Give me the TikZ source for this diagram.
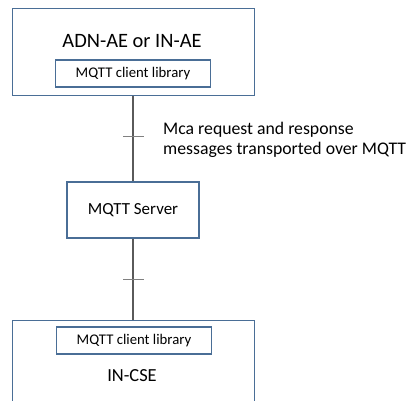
\documentclass[tikz,border=0pt]{standalone}
\usepackage{fontspec}
\setmainfont{Carlito}
\definecolor{boxblue}{HTML}{4A6E96}
\definecolor{linegray}{HTML}{5A5A5A}
\begin{document}
\begin{tikzpicture}[x=1bp,y=-1bp,
  outer/.style={draw=boxblue,line width=1.3bp,fill=white,minimum width=242bp,anchor=north west,inner sep=0},
  lib/.style={draw=boxblue,line width=1.2bp,fill=white,minimum width=155bp,minimum height=27bp,inner sep=0,font=\fontsize{14.8}{16}\selectfont},
  server/.style={draw=boxblue,line width=1.2bp,fill=white,minimum width=132bp,minimum height=56bp,inner sep=0,font=\fontsize{17}{19}\selectfont},
  conn/.style={draw=linegray,line width=1.3bp},
  tick/.style={draw=gray,line width=1bp},
  title/.style={inner sep=0}]
\useasboundingbox (0,0) rectangle (410,401);
\clip (0,0) rectangle (410,401);
% top box
\node[outer,minimum height=87bp] (top) at (12,8) {};
\node[title,font=\fontsize{20.5}{22}\selectfont] (toptitle) at (132,41) {ADN-AE or IN-AE};
\node[lib] (toplib) at (133,73.5) {MQTT client library};
% server
\node[server] (srv) at (133,210) {MQTT Server};
% bottom box
\node[outer,minimum height=100bp] (bot) at (12,320) {};
\node[lib] (botlib) at (134,340.5) {MQTT client library};
\node[title,font=\fontsize{18.5}{20}\selectfont] (bottitle) at (132,376) {IN-CSE};
% connectors
\draw[conn] (top.south -| srv.north) -- (srv.north);
\draw[conn] (srv.south) -- (srv.south |- bot.north);
\coordinate (t1) at (133,136);
\coordinate (t2) at (133,279);
\draw[tick] ([xshift=-10bp]t1) -- ([xshift=11bp]t1);
\draw[tick] ([xshift=-10bp]t2) -- ([xshift=11bp]t2);
% label
\node[anchor=west,align=left,inner sep=0,font=\fontsize{17.8}{20}\selectfont] (lbl) at (163,140) {Mca request and response\\messages transported over MQTT};
\end{tikzpicture}
\end{document}
